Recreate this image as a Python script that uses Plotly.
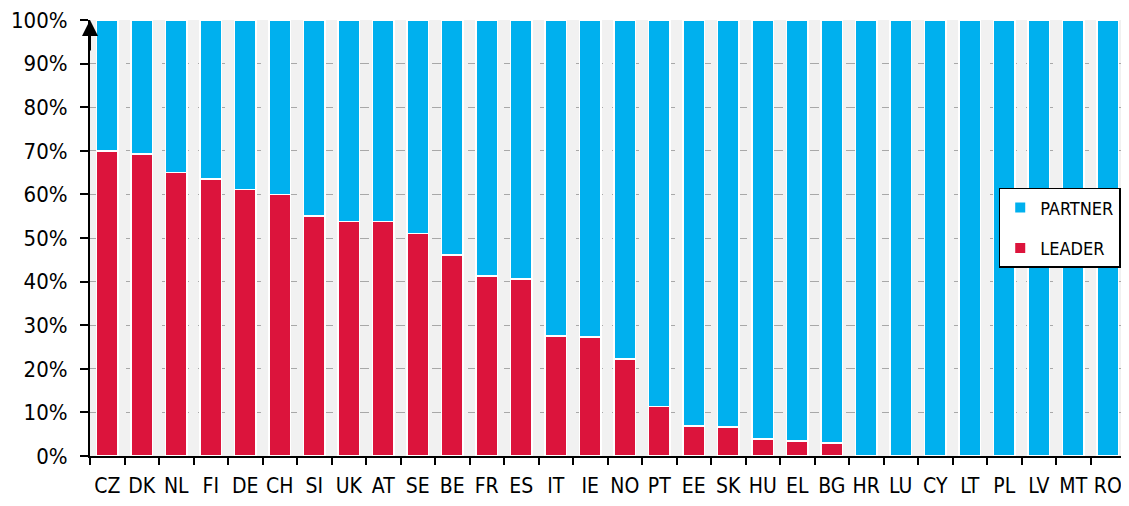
import plotly.graph_objects as go

COUNTRIES = ['CZ', 'DK', 'NL', 'FI', 'DE', 'CH', 'SI', 'UK', 'AT', 'SE', 'BE', 'FR', 'ES', 'IT', 'IE',
             'NO', 'PT', 'EE', 'SK', 'HU', 'EL', 'BG', 'HR', 'LU', 'CY', 'LT', 'PL', 'LV', 'MT', 'RO']
LEADER = [70.0, 69.3, 65.0, 63.5, 61.1, 60.0, 55.0, 53.8, 53.8, 51.0, 46.1, 41.3, 40.6, 27.5, 27.3,
          22.2, 11.4, 6.9, 6.7, 3.9, 3.4, 3.0, 0, 0, 0, 0, 0, 0, 0, 0]
PARTNER = [100 - v for v in LEADER]

RED = '#DC143C'
BLUE = '#00B0EE'
FONT = 'DejaVu Sans Condensed, DejaVu Sans, Arial'

fig = go.Figure()
fig.add_trace(go.Bar(x=COUNTRIES, y=LEADER, name='LEADER', legendgroup='leader', legendrank=2,
                     marker_color=RED, marker_line=dict(color='white', width=1.5)))
fig.add_trace(go.Bar(x=COUNTRIES, y=PARTNER, name='PARTNER', legendgroup='partner', legendrank=1,
                     marker_color=BLUE, marker_line=dict(color='white', width=1.5)))

# page body has an 8px margin, so the figure is shrunk by that much
fig.update_layout(
    barmode='stack', bargap=0.38,
    width=1121, height=498,
    margin=dict(l=82, r=4, t=12, b=50, autoexpand=False),
    plot_bgcolor='#f1f1f1', paper_bgcolor='white',
    font=dict(family=FONT, size=21, color='black'),
    legend=dict(x=0.878, y=0.615, xanchor='left', yanchor='top', traceorder='grouped',
                bgcolor='white', bordercolor='black', borderwidth=1.5,
                font=dict(size=18), itemsizing='constant', tracegroupgap=14),
    showlegend=True,
)
fig.update_xaxes(showline=True, linecolor='black', linewidth=2, ticks='outside',
                 tickson='boundaries', ticklen=7, tickwidth=2, tickcolor='black',
                 tickangle=0, ticklabelstandoff=10, showgrid=False, automargin=False)
fig.update_yaxes(range=[0, 100], tickvals=list(range(0, 101, 10)),
                 ticktext=[f'{v}%' for v in range(0, 101, 10)],
                 tickfont=dict(size=22), ticklabelstandoff=8, ticklabeloverflow='allow',
                 showline=True, linecolor='black', linewidth=2, ticks='outside',
                 ticklen=8, tickwidth=2, tickcolor='black',
                 showgrid=True, gridcolor='#a8a8a8', griddash='dash', gridwidth=1,
                 zeroline=False, automargin=False)
fig.add_annotation(x=0, y=1, xref='paper', yref='paper', text='', showarrow=True,
                   arrowhead=2, arrowsize=1.6, arrowwidth=2, arrowcolor='black',
                   ax=0, ay=32)

fig.write_html('out.html')
